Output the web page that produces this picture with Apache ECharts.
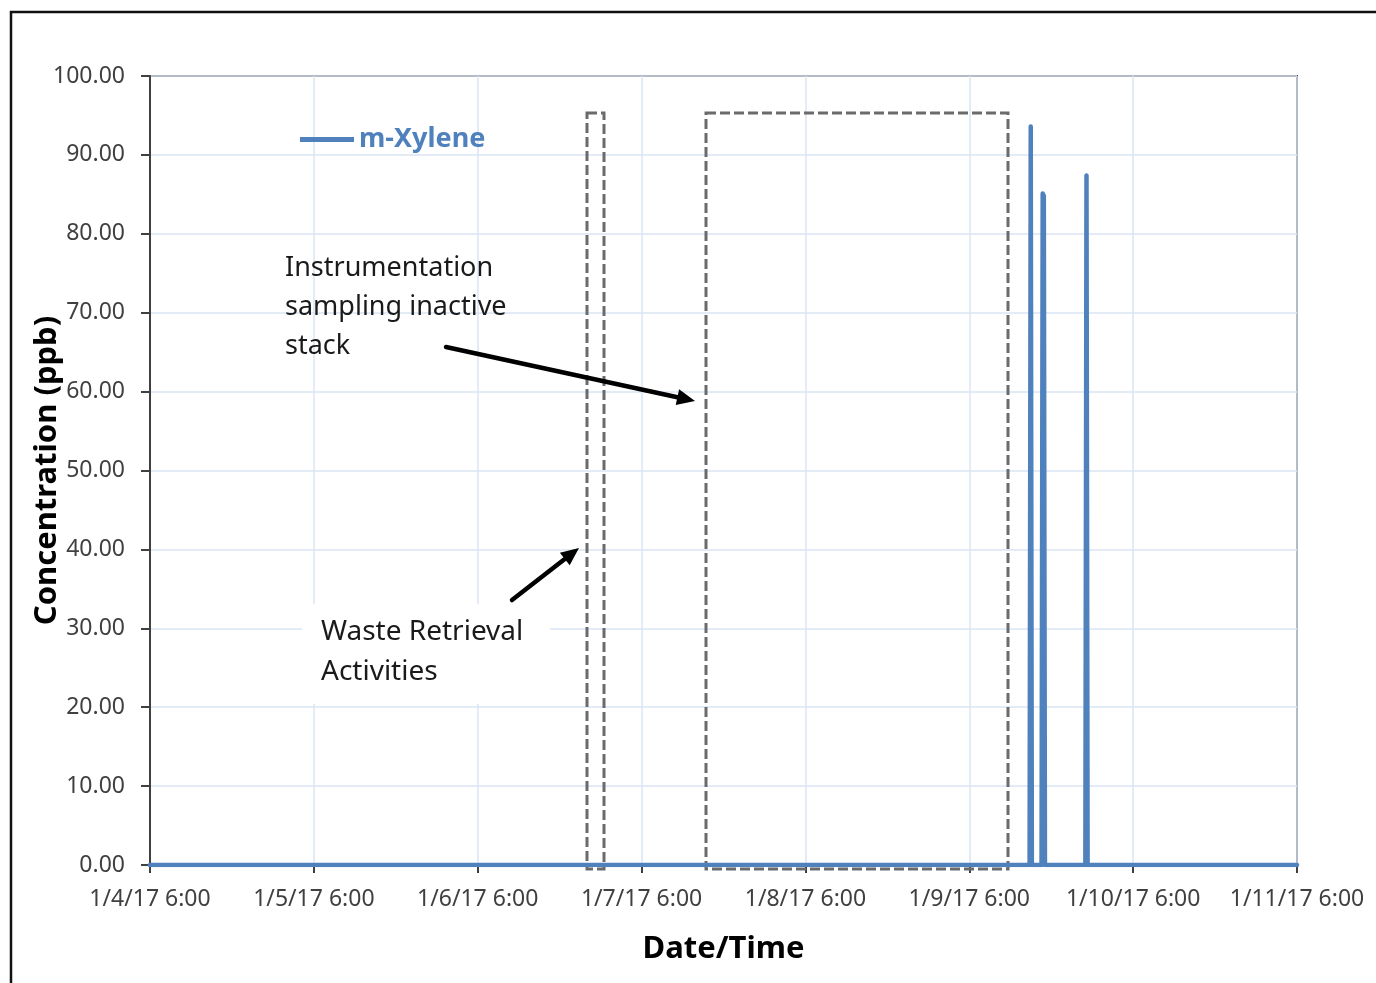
<!DOCTYPE html>
<html>
<head>
<meta charset="utf-8">
<script src="https://cdn.jsdelivr.net/npm/echarts@6/dist/echarts.min.js"></script>
<style>
  html, body { margin: 0; padding: 0; background: #fff; }
  #chart { width: 1376px; height: 983px; }
</style>
</head>
<body>
<div id="chart"></div>
<script>
// m-Xylene readings (ppb)
let times = [
    '2017-01-04T06:00', '2017-01-09T14:50', '2017-01-09T15:00', '2017-01-09T15:10',
    '2017-01-09T16:35', '2017-01-09T16:45', '2017-01-09T16:55', '2017-01-09T17:05',
    '2017-01-09T23:00', '2017-01-09T23:10', '2017-01-09T23:20', '2017-01-11T06:00'
];
let xylene = [0, 0, 93.6, 0, 0, 85.1, 84.8, 0, 0, 87.4, 0, 0];
let seriesName = 'm-Xylene';
let axisStart = '2017-01-04T06:00';
let yTicks = [0, 10, 20, 30, 40, 50, 60, 70, 80, 90, 100];

let blue = '#4f81bd';
let font = 'Noto Sans';
let t0 = new Date(axisStart).getTime();
// x is hours since 1/4/17 6:00 so that ticks land on whole days
let points = times.map(function (t, i) {
    return [(new Date(t).getTime() - t0) / 3600000, xylene[i]];
});

function fmtDate(h) {
    let d = new Date(t0 + h * 3600000);
    let mm = d.getMinutes();
    return (d.getMonth() + 1) + '/' + d.getDate() + '/' + String(d.getFullYear()).slice(2) +
        ' ' + d.getHours() + ':' + (mm < 10 ? '0' + mm : mm);
}

// arrow = shaft + filled head
function arrow(x1, y1, x2, y2) {
    let a = Math.atan2(y2 - y1, x2 - x1);
    let len = 18, w = 8;
    let bx = x2 - len * Math.cos(a), by = y2 - len * Math.sin(a);
    let px = -Math.sin(a) * w, py = Math.cos(a) * w;
    return [
        { type: 'line', shape: { x1: x1, y1: y1, x2: bx, y2: by },
          style: { stroke: '#000', lineWidth: 4.5, lineCap: 'round' }, z: 20 },
        { type: 'polygon', shape: { points: [[x2, y2], [bx + px, by + py], [bx - px, by - py]] },
          style: { fill: '#000' }, z: 20 }
    ];
}

let dashed = { stroke: '#6b6b6b', lineWidth: 3, lineDash: [10, 4], fill: null };
let tickStyle = { color: '#404040', width: 2 };

let chart = echarts.init(document.getElementById('chart'));
let yMin = yTicks[0], yMax = yTicks[yTicks.length - 1];
let xMax = 7 * 24;

chart.setOption({
    animation: false,
    backgroundColor: '#fff',
    grid: {
        left: 150, right: 79, top: 76, bottom: 118,
        show: true, borderColor: '#404040', borderWidth: 2
    },
    legend: {
        data: [{ name: seriesName, icon: 'rect' }],
        left: 295, top: 121,
        itemWidth: 54, itemHeight: 5, itemGap: 4,
        textStyle: { color: blue, fontFamily: font, fontSize: 27, fontWeight: 'bold', padding: [0, 0, 0, 0] }
    },
    xAxis: [
        {
            type: 'value', min: 0, max: xMax, interval: 24,
            name: 'Date/Time', nameLocation: 'middle', nameGap: 69,
            nameTextStyle: { color: '#000', fontFamily: font, fontSize: 31, fontWeight: 'bold' },
            axisLine: { show: true, onZero: false, lineStyle: { color: '#404040', width: 2 } },
            axisTick: { show: true, length: 8, lineStyle: tickStyle },
            axisLabel: {
                color: '#404040', fontFamily: font, fontSize: 23, margin: 23,
                showMaxLabel: true, showMinLabel: true,
                formatter: function (v) { return fmtDate(v); }
            },
            splitLine: { show: true, lineStyle: { color: '#dae5f4', width: 1.5 } }
        }
    ],
    yAxis: [
        {
            type: 'value', min: yMin, max: yMax, interval: 10,
            name: 'Concentration (ppb)', nameLocation: 'middle', nameGap: 87, nameMoveOverlap: false,
            nameTextStyle: { color: '#000', fontFamily: font, fontSize: 31, fontWeight: 'bold' },
            axisLine: { show: true, lineStyle: { color: '#404040', width: 2 } },
            axisTick: { show: true, length: 9, lineStyle: tickStyle },
            axisLabel: {
                color: '#404040', fontFamily: font, fontSize: 23, margin: 25,
                formatter: function (v) { return v.toFixed(2); }
            },
            splitLine: { show: true, lineStyle: { color: '#dae5f4', width: 1.5 } }
        }
    ],
    series: [
        {
            name: seriesName,
            type: 'line',
            data: points,
            symbol: 'none',
            showSymbol: false,
            lineStyle: { color: blue, width: 4.5, cap: 'round', join: 'round' },
            itemStyle: { color: blue },
            z: 10
        }
    ],
    graphic: [
        // outer frame of the figure
        { type: 'rect', shape: { x: 11, y: 12, width: 1420, height: 1020 },
          style: { stroke: '#111', lineWidth: 2.5, fill: null }, z: 30 },
        // dashed boxes
        { type: 'rect', shape: { x: 587, y: 113, width: 17, height: 756 }, style: dashed, z: 5 },
        { type: 'rect', shape: { x: 706, y: 113, width: 302, height: 756 }, style: dashed, z: 5 },
        // annotation texts
        { type: 'text', left: 285, top: 249,
          style: { text: 'Instrumentation\nsampling inactive\nstack', fill: '#1a1a1a',
                   font: '27px "Noto Sans"', lineHeight: 39 }, z: 20 },
        { type: 'rect', shape: { x: 302, y: 604, width: 248, height: 100 },
          style: { fill: '#fff' }, z: 15 },
        { type: 'text', left: 321, top: 612,
          style: { text: 'Waste Retrieval\nActivities', fill: '#1a1a1a',
                   font: '28px "Noto Sans"', lineHeight: 40 }, z: 20 }
    ].concat(arrow(446, 347, 695, 401), arrow(512, 600, 579, 548))
});
</script>
</body>
</html>
